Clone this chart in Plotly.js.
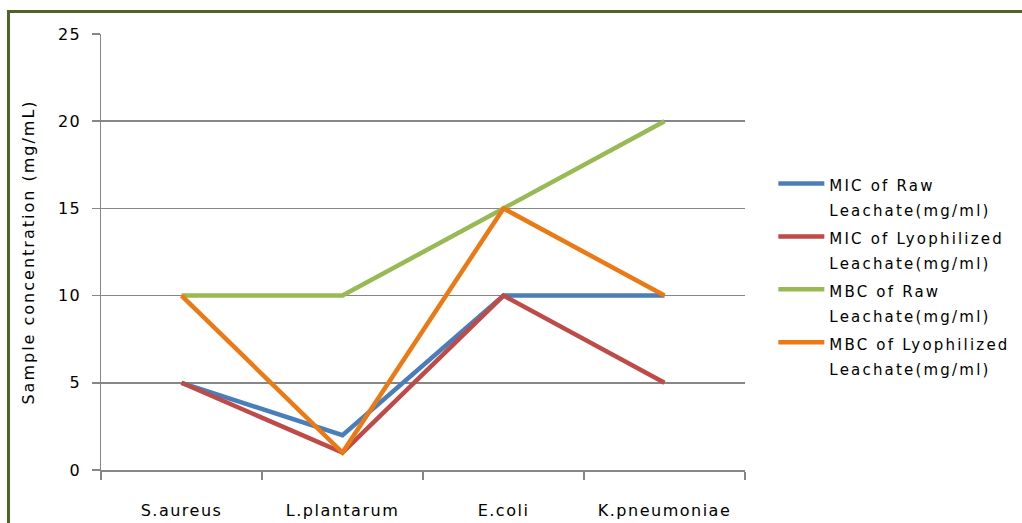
<!DOCTYPE html>
<html>
<head>
<meta charset="utf-8">
<script src="https://cdn.plot.ly/plotly-3.0.1.min.js"></script>
<style>
html,body{margin:0;padding:0;background:#fff;}
#chart{width:1022px;height:523px;}
text{letter-spacing:1.5px;}
text.ytitle{letter-spacing:2px;}
text.legendtext{letter-spacing:2.2px;}
</style>
</head>
<body>
<div id="chart"></div>
<script>
const categories = ["S.aureus", "L.plantarum", "E.coli", "K.pneumoniae"];
const seriesNames = [
  ["MIC of Raw", "Leachate(mg/ml)"],
  ["MIC of Lyophilized", "Leachate(mg/ml)"],
  ["MBC of Raw", "Leachate(mg/ml)"],
  ["MBC of Lyophilized", "Leachate(mg/ml)"]
];
const micRaw = [5, 2, 10, 10];
const micLyo = [5, 1, 10, 5];
const mbcRaw = [10, 10, 15, 20];
const mbcLyo = [10, 1, 15, 10];
const colors = ["#4a7ebb", "#be4b48", "#98b954", "#ec7a14"];

const allSeries = [micRaw, micLyo, mbcRaw, mbcLyo];
const fam = "DejaVu Sans, Verdana, sans-serif";
const traces = allSeries.map((vals, i) => ({
  x: categories, y: vals, type: "scatter", mode: "lines",
  name: seriesNames[i].map(s => '<span style="font-size:15px">' + s + '</span>').join("<br>"),
  line: {color: colors[i], width: 4.5}
}));

const font = {family: fam, size: 16, color: "#000"};
const layout = {
  width: 1022, height: 523,
  margin: {l: 101, r: 277, t: 34, b: 53, autoexpand: false},
  paper_bgcolor: "#fff", plot_bgcolor: "#fff",
  font: font,
  showlegend: true,
  legend: {x: 1.044, y: 0.446, xanchor: "left", yanchor: "middle", valign: "top",
           font: {family: fam, size: 19.2, color: "#000"}, itemwidth: 46,
           bgcolor: "rgba(0,0,0,0)"},
  xaxis: {type: "category", range: [-0.5, 3.5], showgrid: false, showline: true,
          linecolor: "#868686", linewidth: 1.5, ticks: "outside", tickson: "boundaries",
          ticklen: 8, tickcolor: "#868686", tickwidth: 1.5, ticklabelstandoff: 25,
          tickfont: font, zeroline: false, automargin: false},
  yaxis: {range: [0, 25], dtick: 5, showgrid: true, gridcolor: "#868686", gridwidth: 1.5,
          showline: true, linecolor: "#868686", linewidth: 1.5, ticks: "outside",
          ticklen: 8, tickcolor: "#868686", tickwidth: 1.5, tickfont: font, zeroline: false,
          ticklabelstandoff: 7, automargin: false,
          title: {text: "Sample concentration (mg/mL)", font: font, standoff: 19}},
  shapes: [{type: "rect", xref: "paper", yref: "paper",
            x0: (8.5 - 101) / 644, x1: 1.6, y0: -0.5, y1: (470 - 11.5) / 436,
            line: {color: "#4f6228", width: 3}, fillcolor: "rgba(0,0,0,0)", layer: "below"}]
};
Plotly.newPlot("chart", traces, layout, {displayModeBar: false, staticPlot: true});
</script>
</body>
</html>
